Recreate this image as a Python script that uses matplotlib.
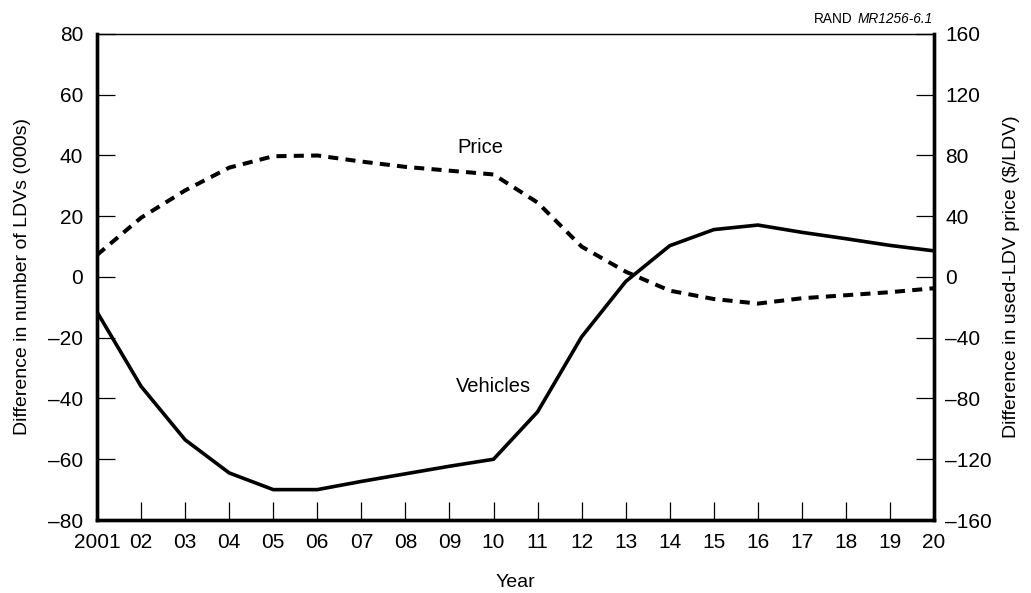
import matplotlib.pyplot as plt

plt.rcParams['font.family'] = ['Liberation Sans', 'DejaVu Sans']

years = list(range(2001, 2021))
year_labels = ['2001'] + [f'{y % 100:02d}' for y in years[1:]]

# thousands of LDVs (left axis)
vehicles = [-11.5, -36, -53.6, -64.5, -70, -70, -67.3, -64.8, -62.3, -60,
            -44.4, -19.7, -1.5, 10.3, 15.6, 17.1, 14.7, 12.6, 10.4, 8.6]
# $/LDV (right axis)
price = [14.5, 39, 57, 72, 79.5, 80, 76, 72.5, 70, 67.5,
         49, 20, 3.5, -9, -14.5, -17.5, -14, -12, -10, -7.4]

fig = plt.figure(figsize=(10.31, 5.93), dpi=100)
ax = fig.add_axes([0.0941, 0.1231, 0.8119, 0.8196])
ax2 = ax.twinx()

ax.plot(years, vehicles, color='black', lw=2.6, solid_joinstyle='miter')
ax2.plot(years, price, color='black', lw=2.9, dashes=(2.5, 1.8))

ax.set_xlim(2001, 2020)
ax.set_ylim(-80, 80)
ax2.set_ylim(-160, 160)
ax.set_xticks(years)
ax.set_xticklabels(year_labels)
ax.set_yticks(range(-80, 81, 20))
ax.set_yticklabels([str(v).replace('-', '\u2013') for v in range(-80, 81, 20)])
ax2.set_yticks(range(-160, 161, 40))
ax2.set_yticklabels([str(v).replace('-', '\u2013') for v in range(-160, 161, 40)])

ax.tick_params(axis='x', direction='in', length=13, width=0.9, labelsize=15, pad=9)
ax.tick_params(axis='y', direction='in', length=13, width=0.9, labelsize=15, pad=10)
ax2.tick_params(axis='y', direction='in', length=13, width=0.9, labelsize=15, pad=8)

for a in (ax, ax2):
    a.spines['top'].set_linewidth(0.9)
    for s in ('left', 'bottom', 'right'):
        a.spines[s].set_linewidth(2.4)

ax.set_ylabel('Difference in number of LDVs (000s)', fontsize=14, labelpad=12)
ax2.set_ylabel('Difference in used-LDV price ($/LDV)', fontsize=14, labelpad=8)
ax.set_xlabel('Year', fontsize=14, labelpad=16)

ax.text(2009.7, 42.5, 'Price', fontsize=14.5, ha='center', va='center')
ax.text(2010.0, -36, 'Vehicles', fontsize=14.5, ha='center', va='center')

fig.text(0.827, 0.968, 'RAND', fontsize=9.8, ha='right', va='center')
fig.text(0.832, 0.968, 'MR1256-6.1', fontsize=9.8, ha='left', va='center', style='italic')

fig.savefig('out.png', dpi=100)
